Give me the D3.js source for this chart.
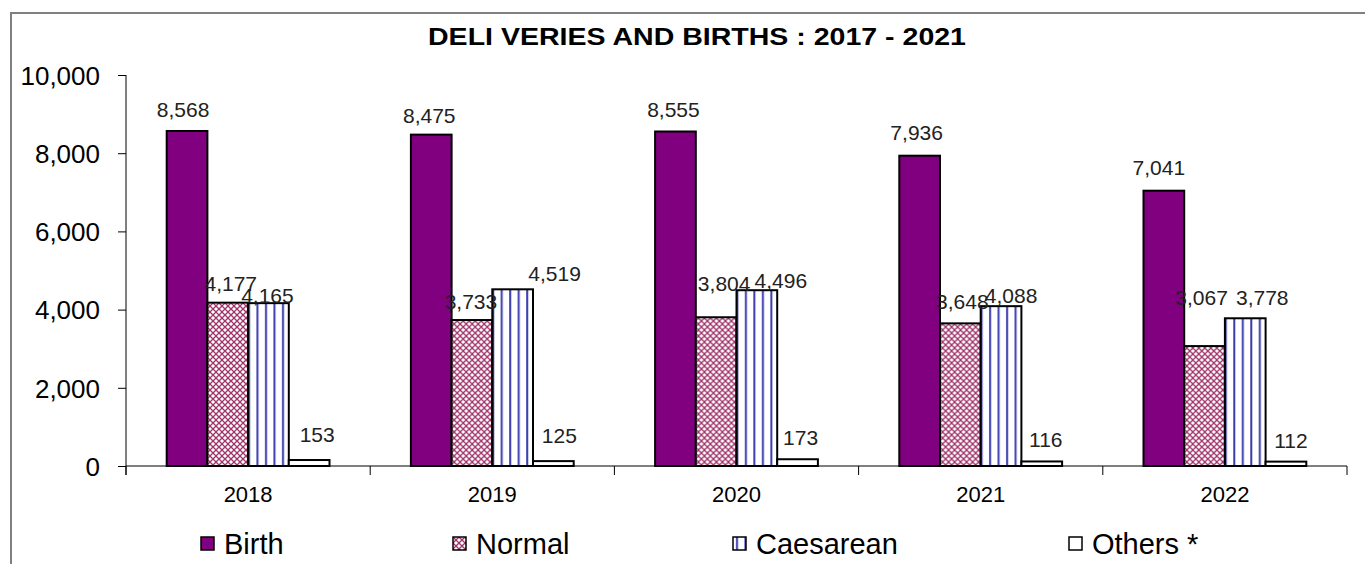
<!DOCTYPE html>
<html>
<head>
<meta charset="utf-8">
<script src="https://cdn.jsdelivr.net/npm/d3@7"></script>
<style>
  body { margin: 0; background: #fff; }
  text { font-family: "Liberation Sans", Arial, sans-serif; fill: #000; }
</style>
</head>
<body>
<div id="chart"></div>
<script>
var years = ["2018", "2019", "2020", "2021", "2022"];
var seriesNames = ["Birth", "Normal", "Caesarean", "Others *"];
var birth = [8568, 8475, 8555, 7936, 7041];
var normal = [4177, 3733, 3804, 3648, 3067];
var caesarean = [4165, 4519, 4496, 4088, 3778];
var others = [153, 125, 173, 116, 112];
var yTicks = [0, 2000, 4000, 6000, 8000, 10000];

// hand-placed label offsets (dx, dy) like in the original sheet
var labelNudge = [
  [[-4, -1], [3, 1], [-1, 13], [8, -5]],
  [[-2, 1], [-1, 2], [42, 5], [6, -5]],
  [[-2, -1], [8, -13], [24, 11], [3, -1]],
  [[-3, -3], [2, -1], [10, 10], [4, -1]],
  [[-5, -3], [-3, -28], [17, 0], [5, -1]]
];

var width = 1365, height = 564;
var svg = d3.select("#chart").append("svg")
  .attr("width", width)
  .attr("height", height);

// patterns
var defs = svg.append("defs");
var pNormal = defs.append("pattern")
  .attr("id", "pat-normal")
  .attr("patternUnits", "userSpaceOnUse")
  .attr("width", 6).attr("height", 6);
pNormal.append("rect").attr("width", 6).attr("height", 6).attr("fill", "#fff");
pNormal.append("path")
  .attr("d", "M0,0 L6,6 M6,0 L0,6")
  .attr("stroke", "#a0336a").attr("stroke-width", 1.3);

var pCaes = defs.append("pattern")
  .attr("id", "pat-caes")
  .attr("patternUnits", "userSpaceOnUse")
  .attr("width", 8.5).attr("height", 8);
pCaes.append("rect").attr("width", 8.5).attr("height", 8).attr("fill", "#fff");
pCaes.append("rect").attr("x", 3).attr("width", 2).attr("height", 8).attr("fill", "#3a3ab0");

var fills = ["#800080", "url(#pat-normal)", "url(#pat-caes)", "#fff"];

var table = years.map(function(y, i) {
  return {year: y, idx: i, values: [birth[i], normal[i], caesarean[i], others[i]]};
});

// frame
svg.append("rect")
  .attr("x", 11).attr("y", 13)
  .attr("width", width + 20).attr("height", height + 20)
  .attr("fill", "none").attr("stroke", "#808080").attr("stroke-width", 2);

// title
svg.append("text")
  .attr("x", 428).attr("y", 45)
  .attr("textLength", 538)
  .attr("lengthAdjust", "spacingAndGlyphs")
  .style("font-weight", "bold")
  .style("font-size", "23px")
  .text("DELI VERIES AND BIRTHS :  2017 - 2021");

var x = d3.scaleBand()
  .domain(years)
  .range([126, 1347]);

var bw = x.bandwidth();
var xs = d3.scaleBand()
  .domain(d3.range(seriesNames.length))
  .range([bw / 6, bw * 5 / 6]);

var y = d3.scaleLinear()
  .domain([0, 10000])
  .range([466, 75]);

// y axis
var yAxis = svg.append("g")
  .attr("transform", "translate(126,0)")
  .call(d3.axisLeft(y).tickValues(yTicks).tickFormat(d3.format(",")).tickSize(8).tickPadding(18));
yAxis.select(".domain").attr("d", "M0," + y(10000) + "V475").attr("stroke", "#000");
yAxis.selectAll("text").style("font-size", "26px").attr("dy", "0.36em");

// x axis
var xAxis = svg.append("g")
  .attr("transform", "translate(0," + y(0) + ")")
  .call(d3.axisBottom(x).tickSize(0).tickPadding(20));
xAxis.select(".domain").attr("d", "M126,0H1347").attr("stroke", "#000");
xAxis.selectAll("text").style("font-size", "22px");
xAxis.selectAll(".bound")
  .data(years.concat(["end"]))
  .enter().append("line")
  .attr("class", "bound")
  .attr("x1", function(d) { return d === "end" ? x.range()[1] : x(d); })
  .attr("x2", function(d) { return d === "end" ? x.range()[1] : x(d); })
  .attr("y1", 0).attr("y2", 9)
  .attr("stroke", "#000");

// bars
var groups = svg.append("g").selectAll(".grp")
  .data(table)
  .enter().append("g")
  .attr("class", "grp")
  .attr("transform", function(d) { return "translate(" + x(d.year) + ",0)"; });

groups.selectAll("rect")
  .data(function(d) { return d.values; })
  .enter().append("rect")
  .attr("x", function(d, i) { return xs(i); })
  .attr("y", function(d) { return y(d); })
  .attr("width", xs.bandwidth())
  .attr("height", function(d) { return y(0) - y(d); })
  .attr("fill", function(d, i) { return fills[i]; })
  .attr("stroke", "#000")
  .attr("stroke-width", 2);

groups.selectAll(".lbl")
  .data(function(d) {
    return d.values.map(function(v, i) { return {v: v, i: i, n: labelNudge[d.idx][i]}; });
  })
  .enter().append("text")
  .attr("class", "lbl")
  .attr("x", function(d) { return xs(d.i) + xs.bandwidth() / 2 + d.n[0]; })
  .attr("y", function(d) { return y(d.v) - 13 + d.n[1]; })
  .attr("text-anchor", "middle")
  .style("font-size", "21px")
  .style("fill", "#222")
  .text(function(d) { return d3.format(",")(d.v); });

// legend
var legendX = [201, 453, 733, 1069];
var legend = svg.append("g").selectAll(".leg")
  .data(seriesNames)
  .enter().append("g")
  .attr("class", "leg")
  .attr("transform", function(d, i) { return "translate(" + legendX[i] + ",537)"; });
legend.append("rect")
  .attr("width", 13).attr("height", 13)
  .attr("fill", function(d, i) { return fills[i]; })
  .attr("stroke", "#000").attr("stroke-width", 1.5);
legend.append("text")
  .attr("x", 23).attr("y", 17)
  .style("font-size", "29px")
  .text(function(d) { return d; });
</script>
</body>
</html>
